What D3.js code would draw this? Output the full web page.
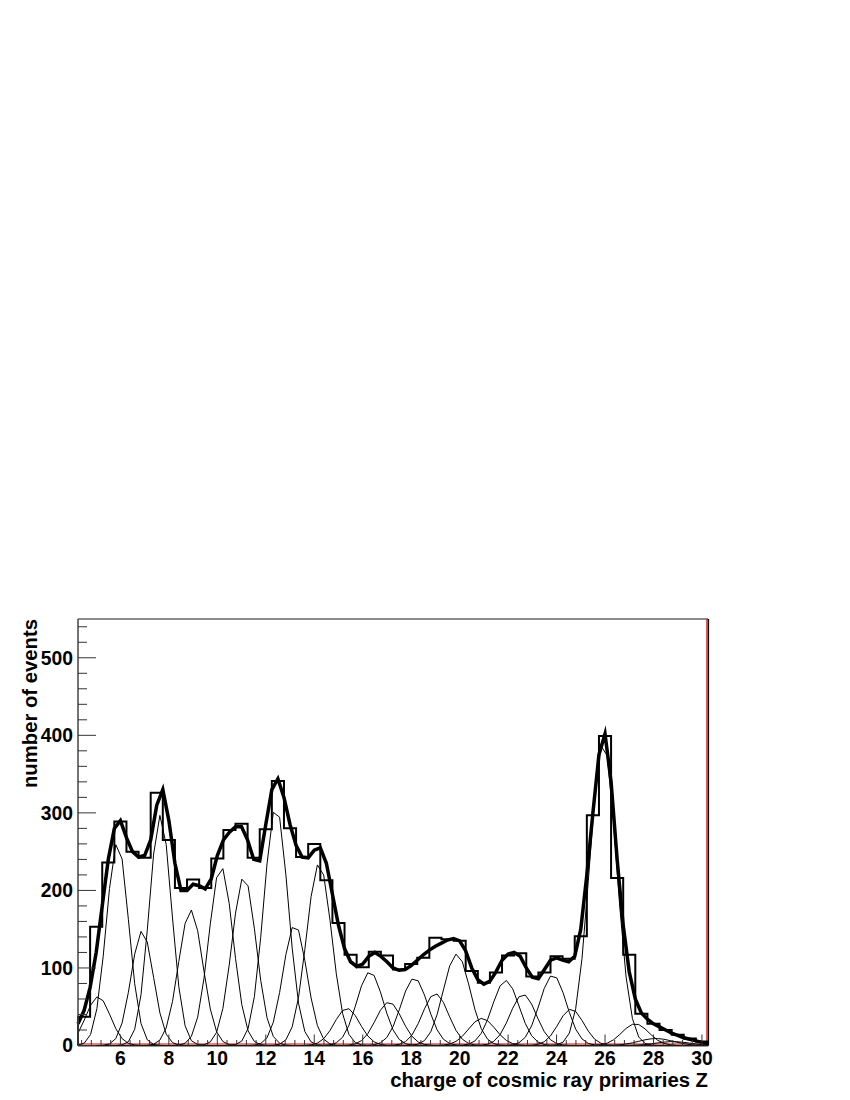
<!DOCTYPE html>
<html><head><meta charset="utf-8">
<script src="https://cdn.jsdelivr.net/npm/d3@7"></script>
<style>body{margin:0;background:#fff}text{font-family:"Liberation Sans",Arial,sans-serif;font-weight:bold;fill:#000}</style>
</head><body>
<svg id="c" width="850" height="1100"></svg>
<script>
// ---------- data ----------
const binCenters = [4.5,5.0,5.5,6.0,6.5,7.0,7.5,8.0,8.5,9.0,9.5,10.0,10.5,11.0,11.5,12.0,12.5,13.0,13.5,14.0,14.5,15.0,15.5,16.0,16.5,17.0,17.5,18.0,18.5,19.0,19.5,20.0,20.5,21.0,21.5,22.0,22.5,23.0,23.5,24.0,24.5,25.0,25.5,26.0,26.5,27.0,27.5,28.0,28.5,29.0,29.5,30.0];
const binCounts  = [37,153,236,289,250,242,326,265,203,214,203,241,278,286,242,279,341,280,243,260,213,158,117,101,121,116,98,105,113,139,137,135,96,81,94,116,119,89,94,115,112,141,297,399,216,117,41,28,20,14,9,5];

const fitZ = [4.25,4.5,4.75,5.0,5.25,5.5,5.75,6.0,6.25,6.5,6.75,7.0,7.25,7.5,7.75,8.0,8.25,8.5,8.75,9.0,9.25,9.5,9.75,10.0,10.25,10.5,10.75,11.0,11.25,11.5,11.75,12.0,12.25,12.5,12.75,13.0,13.25,13.5,13.75,14.0,14.25,14.5,14.75,15.0,15.25,15.5,15.75,16.0,16.25,16.5,16.75,17.0,17.25,17.5,17.75,18.0,18.25,18.5,18.75,19.0,19.25,19.5,19.75,20.0,20.25,20.5,20.75,21.0,21.25,21.5,21.75,22.0,22.25,22.5,22.75,23.0,23.25,23.5,23.75,24.0,24.25,24.5,24.75,25.0,25.25,25.5,25.75,26.0,26.25,26.5,26.75,27.0,27.25,27.5,27.75,28.0,28.25,28.5,28.75,29.0,29.25,29.5,29.75,30.0,30.25];
const fitN = [28,45,75,120,180,240,280,290,268,250,243,245,265,310,330,290,235,200,200,208,206,202,215,245,265,275,282,282,265,240,238,285,330,344,320,285,258,243,242,252,255,235,195,155,125,108,102,105,115,120,115,108,100,97,98,103,110,117,123,128,132,136,138,135,122,100,85,79,83,95,110,118,120,115,100,88,86,98,110,113,110,108,115,150,220,300,375,402,340,240,155,95,60,42,34,28,24,20,16,13,10,8,6,4,3];

// Gaussian fit components: mean, amplitude, sigma
const compMean  = [5.08,5.88,6.9,7.65,8.9,10.15,11.1,12.42,13.2,14.2,15.35,16.3,17.08,18.13,19.0,19.88,20.92,21.9,22.62,23.85,24.6,25.92,27.25,28.1,28.8];
const compAmp   = [63,262,148,297,175,231,218,308,156,235,48,95,56,87,67,118,35,84,66,91,47,392,28,9,5];
const compSigma = [0.50,0.46,0.46,0.46,0.50,0.50,0.50,0.50,0.49,0.52,0.52,0.54,0.54,0.55,0.54,0.55,0.55,0.55,0.54,0.55,0.52,0.55,0.55,0.7,0.7];

const xTickLabels = [6,8,10,12,14,16,18,20,22,24,26,28,30];
const yTickLabels = [0,100,200,300,400,500];
const xTitle = "charge of cosmic ray primaries Z";
const yTitle = "number of events";

// ---------- layout ----------
const L = 78, R = 708, T = 619, B = 1045.5;
const x = d3.scaleLinear().domain([4.25, 30.25]).range([L, R]);
const y = d3.scaleLinear().domain([0, 550]).range([B, T]);
const svg = d3.select("#c");

const binW = 0.5;
const hPts = [[binCenters[0]-binW/2, 0]];
binCenters.forEach((c,i)=>{ hPts.push([c-binW/2, binCounts[i]]); hPts.push([c+binW/2, binCounts[i]]); });
hPts.push([binCenters[binCenters.length-1]+binW/2, 0]);
const line = d3.line().x(d=>x(d[0])).y(d=>y(d[1]));

// red baseline and right red line
svg.append("line").attr("x1",L).attr("x2",R).attr("y1",B-1.5).attr("y2",B-1.5).attr("stroke","#e00000").attr("stroke-width",1.2);
svg.append("line").attr("x1",R-1.3).attr("x2",R-1.3).attr("y1",T).attr("y2",B).attr("stroke","#d00000").attr("stroke-width",0.8);

// component curves (100 samples over the axis range, as the fit drawing)
const npx = 100;
const xs = d3.range(npx+1).map(i=>4.25 + i*(26/npx));
const gauss = (z,k)=>compAmp[k]*Math.exp(-0.5*((z-compMean[k])/compSigma[k])**2);
compMean.forEach((m,k)=>{
  const pts = xs.map(z=>[z, gauss(z,k)]);
  svg.append("path").attr("d",line(pts)).attr("fill","none").attr("stroke","#000").attr("stroke-width",1);
});

svg.append("path").attr("d",line(hPts)).attr("fill","none").attr("stroke","#000").attr("stroke-width",2).attr("stroke-linejoin","miter");

svg.append("path").attr("d",line(fitZ.map((z,i)=>[z,fitN[i]])))
  .attr("fill","none").attr("stroke","#000").attr("stroke-width",3.5).attr("stroke-linejoin","miter").attr("stroke-miterlimit",6);

// frame
svg.append("line").attr("x1",L).attr("x2",R).attr("y1",T).attr("y2",T).attr("stroke","#666").attr("stroke-width",1.5);
svg.append("line").attr("x1",R+0.3).attr("x2",R+0.3).attr("y1",T).attr("y2",B).attr("stroke","#000").attr("stroke-width",1.6);
svg.append("line").attr("x1",L).attr("x2",L).attr("y1",T).attr("y2",B+0.5).attr("stroke","#444").attr("stroke-width",1.5);
svg.append("line").attr("x1",L).attr("x2",R).attr("y1",B+0.5).attr("y2",B+0.5).attr("stroke","#333").attr("stroke-width",1);

// y ticks
const yMinor = d3.range(0, 551, 20);
yMinor.forEach(v=>{
  const major = v % 100 === 0;
  svg.append("line").attr("x1",L).attr("x2",L+(major?18:9)).attr("y1",y(v)).attr("y2",y(v)).attr("stroke","#333").attr("stroke-width",1);
});
yTickLabels.forEach(v=>{
  svg.append("text").attr("x",73).attr("y",y(v)).attr("dy","0.36em").attr("text-anchor","end").attr("font-size",19.3).text(v);
});
// x ticks
const xMinor = d3.range(4.4, 30.3, 0.4);
xMinor.forEach(v=>{
  const major = Math.abs((v-6)/2 - Math.round((v-6)/2)) < 1e-6;
  svg.append("line").attr("x1",x(v)).attr("x2",x(v)).attr("y1",B).attr("y2",B-(major?11:5.5)).attr("stroke","#333").attr("stroke-width",1);
});
xTickLabels.forEach(v=>{
  svg.append("text").attr("x",x(v)).attr("y",1065).attr("text-anchor","middle").attr("font-size",19.3).text(v);
});
// titles
svg.append("text").attr("x",R).attr("y",1087).attr("text-anchor","end").attr("font-size",20.3).text(xTitle);
svg.append("text").attr("transform","translate(37,619) rotate(-90)").attr("text-anchor","end").attr("font-size",20.3).text(yTitle);
</script>
</body></html>
